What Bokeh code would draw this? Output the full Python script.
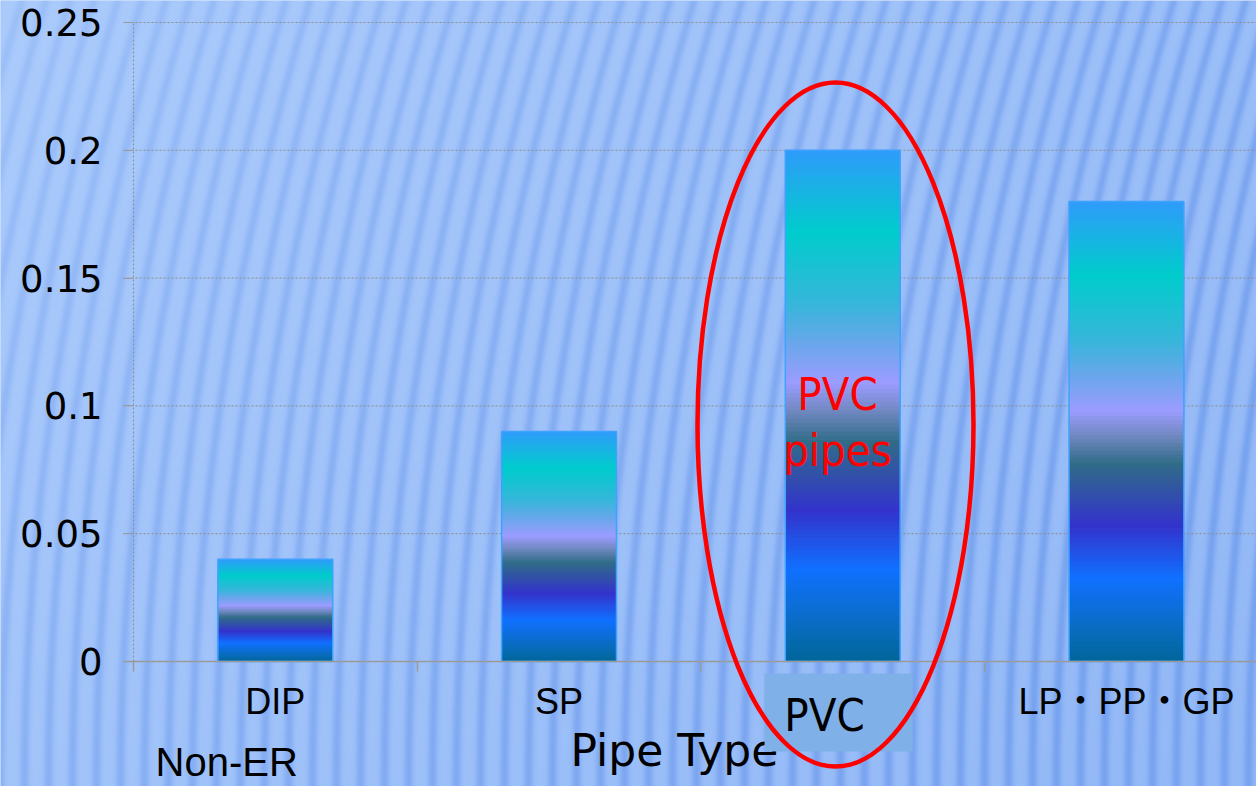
import numpy as np
from bokeh.plotting import figure
from bokeh.models import Range1d, LinearAxis, FixedTicker
from bokeh.core.properties import value
from bokeh.embed import file_html
from bokeh.resources import INLINE

# ---------------- data ----------------
categories = ["DIP", "SP", "PVC", "LP・PP・GP"]
values = [0.04, 0.09, 0.20, 0.18]
category_labels = ["DIP", "SP", "", "LP・PP・GP"]
y_ticks = [0.0, 0.05, 0.10, 0.15, 0.20, 0.25]
y_tick_labels = ["0", "0.05", "0.1", "0.15", "0.2", "0.25"]
x_title = "Pipe Type"
note_text = "Non-ER"
boxed_label = "PVC"
callout_lines = ["PVC", "pipes"]

# ---------------- style ----------------
grad_pos = [0.00, 0.07, 0.18, 0.295, 0.43, 0.49, 0.545, 0.62, 0.70, 0.84, 1.00]
grad_col = ["#006699", "#0a6cc0", "#1070ff", "#3333cc", "#306c88", "#7088c0",
            "#9c9cff", "#6aa6ec", "#36b6da", "#00cccc", "#2f9bfa"]

PAGE_W, PAGE_H = 1256, 786
AX_X, CAT_W = 133.0, 283.7      # page x of the y axis, width of one category
AX_Y, Y_UNIT = 661.0, 2556.0    # page y of value 0, pixels per unit value
BAR_W = 0.405
TXT = 15                        # baseline correction for text glyphs

FONT_ARIAL = "'Liberation Sans', 'Noto Sans CJK JP'"
FONT_NARROW = "'Liberation Sans Narrow', 'DejaVu Sans Condensed', 'Liberation Sans'"
FONT_ROUND = "'DejaVu Sans'"


def dx(px):
    return (px - AX_X) / CAT_W


def dy(py):
    return (AX_Y - py) / Y_UNIT


def hex2rgb(h):
    return np.array([int(h[i:i + 2], 16) for i in (1, 3, 5)], float)


p = figure(width=PAGE_W, height=PAGE_H, title=None,
           x_range=Range1d(dx(0), dx(PAGE_W)),
           y_range=Range1d(dy(PAGE_H), dy(0)),
           x_axis_type=None, y_axis_type=None,
           toolbar_location=None, output_backend="svg", min_border=0,
           outline_line_color=None,
           background_fill_color="#a6c6f8", border_fill_color="#a6c6f8")

# ---------------- striped background ----------------
W, H = 628, 393
px = (np.arange(W) + 0.5) * PAGE_W / W
py = (np.arange(H) + 0.5) * PAGE_H / H
PX, PY = np.meshgrid(px, py)
xn = PX / PAGE_W
yn = PY / PAGE_H
t = np.clip(0.65 * xn + 0.35 * yn, 0, 1)[..., None]
light = hex2rgb("#abcbfc") * (1 - t) + hex2rgb("#92b8f6") * t
amp = np.clip(0.25 + 0.5 * xn + 0.28 * yn, 0, 0.9)[..., None]
off = 1.9e-4 * (PAGE_H - PY) ** 2
s = (((1 + np.cos(2 * np.pi * (PX - off) / 24.0)) / 2) ** 2.5)[..., None]
rgb = light * (1 - amp * s) + hex2rgb("#74a0ee") * amp * s
img = np.empty((H, W, 4), np.uint8)
img[..., :3] = np.clip(rgb, 0, 255).astype(np.uint8)
img[..., 3] = 255
img = np.ascontiguousarray(img[::-1])
img32 = img.view(np.uint32).reshape(H, W)
p.image_rgba(image=[img32], x=dx(0), y=dy(PAGE_H),
             dw=dx(PAGE_W) - dx(0), dh=dy(0) - dy(PAGE_H))

# ---------------- grid lines ----------------
p.segment(x0=dx(123), x1=dx(PAGE_W), y0=y_ticks[1:], y1=y_ticks[1:],
          line_color="#8c8c8c", line_dash="2 2", line_width=1)

# ---------------- gradient bars ----------------
N = 120
edges = np.linspace(0, 1, N + 1)
mids = (edges[:-1] + edges[1:]) / 2
stops = np.array([hex2rgb(c) for c in grad_col])
slice_cols = []
for m in mids:
    r = np.interp(m, grad_pos, stops[:, 0])
    g = np.interp(m, grad_pos, stops[:, 1])
    b = np.interp(m, grad_pos, stops[:, 2])
    slice_cols.append("#%02x%02x%02x" % (int(round(r)), int(round(g)), int(round(b))))

L, R, B, T, C = [], [], [], [], []
for i, v in enumerate(values):
    c = i + 0.5
    for k in range(N):
        L.append(c - BAR_W / 2)
        R.append(c + BAR_W / 2)
        B.append(v * edges[k])
        T.append(v * edges[k + 1] + (0.0004 if k < N - 1 else 0))
        C.append(slice_cols[k])
p.quad(left=L, right=R, bottom=B, top=T, fill_color=C, line_color=None)
centers = [i + 0.5 for i in range(len(values))]
p.quad(left=[c - BAR_W / 2 for c in centers], right=[c + BAR_W / 2 for c in centers],
       bottom=0, top=values, fill_color=None, line_color="#3fa2ff", line_width=1.5)

# ---------------- texts and callouts ----------------
p.text(x=[dx(570)], y=[dy(765 - TXT)], text=[x_title], text_font=value(FONT_ROUND),
       text_font_size=value("44px"), text_color="black",
       text_align="left", text_baseline="alphabetic")
p.text(x=[dx(155)], y=[dy(776 - TXT)], text=[note_text], text_font=value(FONT_ARIAL),
       text_font_size=value("40px"), text_color="black",
       text_align="left", text_baseline="alphabetic")

p.quad(left=[dx(764)], right=[dx(912)], top=[dy(673)], bottom=[dy(751)],
       fill_color="#80b0e8", line_color=None)
p.text(x=[dx(824)], y=[dy(730 - TXT)], text=[boxed_label], text_font=value(FONT_NARROW),
       text_font_size=value("45px"), text_color="black",
       text_align="center", text_baseline="alphabetic")

p.text(x=[dx(837), dx(837)], y=[dy(409 - TXT), dy(465 - TXT)], text=callout_lines,
       text_font=value(FONT_NARROW), text_font_size=value("45px"),
       text_color="#ff0000",
       text_align="center", text_baseline="alphabetic")

ell = p.ellipse(x=[dx(835)], y=[dy(424)], width=[276], height=[684],
                width_units="screen", height_units="screen",
                fill_color=None, line_color="#ff0000", line_width=4.5)
ell.level = "overlay"

# ---------------- axes ----------------
yaxis = LinearAxis(fixed_location=0, bounds=(0, y_ticks[-1]),
                   ticker=FixedTicker(ticks=y_ticks),
                   major_label_overrides=dict(zip(y_ticks, y_tick_labels)),
                   axis_line_color="#8c8c8c", axis_line_dash="2 2", axis_line_width=1,
                   major_tick_out=10, major_tick_in=0, major_tick_line_color="#9a9a9a",
                   minor_tick_line_color=None,
                   major_label_standoff=21,
                   major_label_text_font=FONT_ROUND,
                   major_label_text_font_size="37px",
                   major_label_text_color="black")
p.add_layout(yaxis, "left")

xaxis = LinearAxis(fixed_location=0, bounds=(dx(123), dx(PAGE_W)),
                   ticker=FixedTicker(ticks=centers,
                                      minor_ticks=list(range(len(categories) + 1))),
                   major_label_overrides=dict(zip(centers, category_labels)),
                   axis_line_color="#9a9a9a", axis_line_width=1.5,
                   major_tick_out=0, major_tick_in=0,
                   minor_tick_out=10, minor_tick_in=0, minor_tick_line_color="#9a9a9a",
                   minor_tick_line_width=1.5,
                   major_label_standoff=9,
                   major_label_text_font=FONT_ARIAL,
                   major_label_text_font_size="36px",
                   major_label_text_color="black")
p.add_layout(xaxis, "below")

open("out.html", "w").write(file_html(p, INLINE))
